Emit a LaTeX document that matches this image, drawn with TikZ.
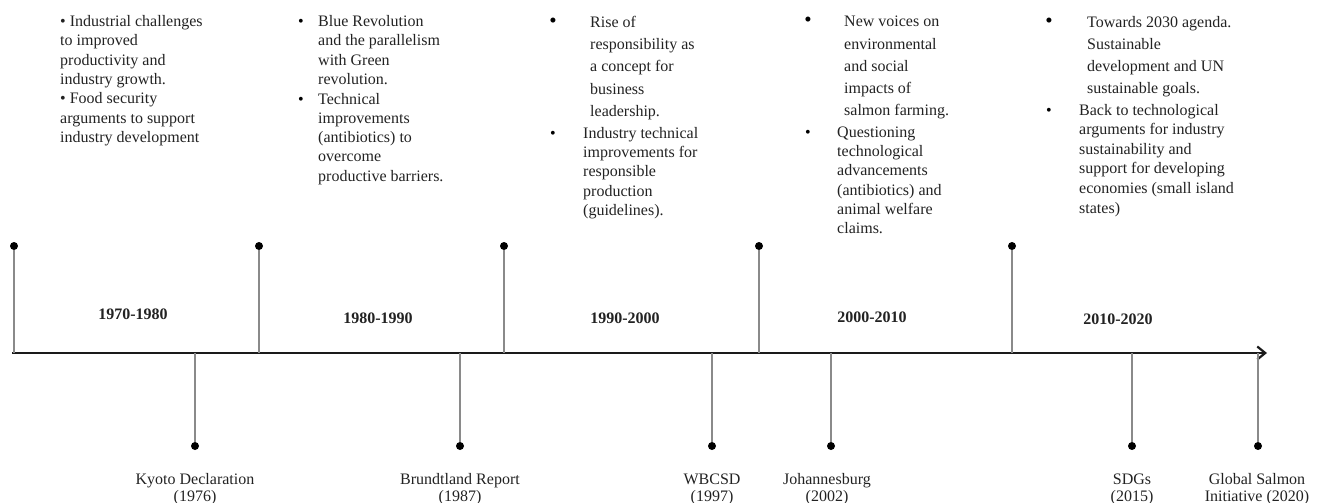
\documentclass[tikz,border=0pt]{standalone}
\usepackage{fontspec}
\setmainfont{Liberation Serif}
\usetikzlibrary{arrows.meta}
\definecolor{txtcol}{HTML}{222222}
\definecolor{stemcol}{HTML}{8A8A8A}
\definecolor{axiscol}{HTML}{1A1A1A}
\newcommand{\tl}[1]{\begin{tabular}[t]{@{}l@{}}#1\end{tabular}}
\newcommand{\tc}[1]{\begin{tabular}[t]{@{}c@{}}#1\end{tabular}}
\begin{document}
\begin{tikzpicture}[x=1pt,y=-1pt,
  txt/.style={anchor=base west, inner sep=0pt, text=txtcol, font=\fontsize{16}{19.3}\selectfont},
  wide/.style={font=\fontsize{16}{22.3}\selectfont},
  bul/.style={anchor=base, inner sep=0pt, text=black, font=\fontsize{16}{19}\selectfont},
  bigbul/.style={anchor=base, inner sep=0pt, text=black, font=\fontsize{21}{19}\selectfont},
  period/.style={anchor=base, inner sep=0pt, text=txtcol, font=\fontsize{16}{19}\selectfont\bfseries},
  event/.style={anchor=base, inner sep=0pt, text=txtcol, font=\fontsize{16}{17.5}\selectfont},
  dot/.style={circle, fill=black, inner sep=0pt, minimum size=8pt},
  stem/.style={draw=stemcol, line width=1.2pt},
  axis/.style={draw=axiscol, line width=2.4pt, -{Straight Barb[length=8pt,width=13pt,line width=2.2pt]}}
]
\useasboundingbox (0,0) rectangle (1320,503);

% axis
\coordinate (ax0) at (12,353);
\coordinate (ax1) at (1267,353);
\draw[axis] (ax0) -- (ax1);

% upper stems
\foreach \i/\x in {1/14,2/259,3/504,4/759,5/1012}{
  \node[dot] (u\i) at (\x,246) {};
  \coordinate (ua\i) at (\x,353);
  \draw[stem] (u\i) -- (ua\i);
}
% lower stems
\foreach \i/\x in {1/195,2/460,3/712,4/831,5/1132,6/1258}{
  \node[dot] (l\i) at (\x,446) {};
  \coordinate (la\i) at (\x,353);
  \draw[stem] (la\i) -- (l\i);
}

% periods
\node[period] (p1) at (133,319) {1970-1980};
\node[period] (p2) at (378,323) {1980-1990};
\node[period] (p3) at (625,323) {1990-2000};
\node[period] (p4) at (872,322) {2000-2010};
\node[period] (p5) at (1118,324) {2010-2020};

% events
\node[event] (e1) at (195,484) {\tc{Kyoto Declaration\\(1976)}};
\node[event] (e2) at (460,484) {\tc{Brundtland Report\\(1987)}};
\node[event] (e3) at (712,484) {\tc{WBCSD\\(1997)}};
\node[event] (e4) at (827,484) {\tc{Johannesburg\\(2002)}};
\node[event] (e5) at (1132,484) {\tc{SDGs\\(2015)}};
\node[event] (e6) at (1257,484) {\tc{Global Salmon\\Initiative (2020)}};

% block 1
\node[txt] (t1) at (60,26.7) {\tl{• Industrial challenges\\to improved\\productivity and\\industry growth.\\• Food security\\arguments to support\\industry development}};

% block 2
\node[bul] (b2a) at (301,26.7) {•};
\node[txt] (t2a) at (318,26.7) {\tl{Blue Revolution\\and the parallelism\\with Green\\revolution.}};
\node[bul] (b2b) at (301,104) {•};
\node[txt] (t2b) at (318,104) {\tl{Technical\\improvements\\(antibiotics) to\\overcome\\productive barriers.}};

% block 3
\node[bigbul] (b3a) at (553,27.5) {•};
\node[txt,wide] (t3a) at (590,27.3) {\tl{Rise of\\responsibility as\\a concept for\\business\\leadership.}};
\node[bul] (b3b) at (553,138.3) {•};
\node[txt] (t3b) at (583,138.3) {\tl{Industry technical\\improvements for\\responsible\\production\\(guidelines).}};

% block 4
\node[bigbul] (b4a) at (808,27) {•};
\node[txt,wide] (t4a) at (844,26.7) {\tl{New voices on\\environmental\\and social\\impacts of\\salmon farming.}};
\node[bul] (b4b) at (808,137.3) {•};
\node[txt] (t4b) at (837,137.3) {\tl{Questioning\\technological\\advancements\\(antibiotics) and\\animal welfare\\claims.}};

% block 5
\node[bigbul] (b5a) at (1049,27.5) {•};
\node[txt,font=\fontsize{16}{22}\selectfont] (t5a) at (1087,27.3) {\tl{Towards 2030 agenda.\\Sustainable\\development and UN\\sustainable goals.}};
\node[bul] (b5b) at (1049,115) {•};
\node[txt,font=\fontsize{16}{19.6}\selectfont] (t5b) at (1079,115) {\tl{Back to technological\\arguments for industry\\sustainability and\\support for developing\\economies (small island\\states)}};
\end{tikzpicture}
\end{document}
